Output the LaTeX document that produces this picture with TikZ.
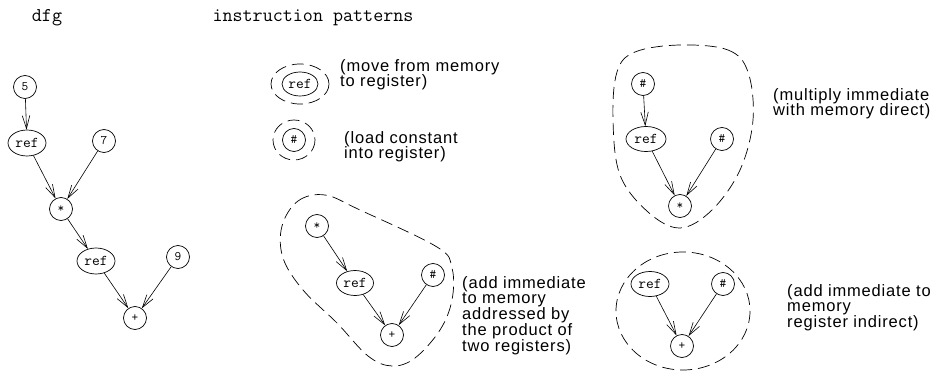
\documentclass[tikz,border=0pt]{standalone}
\usepackage{fontspec}
\setmainfont{Liberation Sans}
\newfontfamily\descfont{Liberation Sans}[LetterSpace=5]
\usetikzlibrary{arrows.meta,shapes.geometric}
\begin{document}
\begin{tikzpicture}[x=1pt,y=-1pt,
  cnode/.style={circle,draw,line width=0.7pt,minimum size=23pt,inner sep=0pt,font=\ttfamily\fontsize{13}{13}\selectfont},
  enode/.style={ellipse,draw,line width=0.7pt,minimum width=38pt,minimum height=26pt,inner sep=0pt,font=\ttfamily\fontsize{15}{15}\selectfont},
  arr/.style={-{Straight Barb[length=13pt,width=7.5pt]},line width=0.6pt},
  blob/.style={draw,dash pattern=on 12pt off 6pt,line width=0.7pt},
  desc/.style={anchor=north west,align=left,font=\descfont\fontsize{16.5}{15.8}\selectfont,inner sep=0pt},
  ttl/.style={font=\ttfamily\fontsize{19.5}{19.5}\selectfont,inner sep=0pt}
]
\useasboundingbox (0,0) rectangle (937,377);
% titles
\node[ttl] (t1) at (47,18) {dfg};
\node[ttl] (t2) at (313,18) {instruction patterns};
% dfg
\node[cnode] (d5) at (25,87) {5};
\node[enode] (dr1) at (27,143) {ref};
\node[cnode] (d7) at (104,141) {7};
\node[cnode] (dm) at (61,209) {*};
\node[enode] (dr2) at (96,261) {ref};
\node[cnode] (d9) at (178,257) {9};
\node[cnode] (dp) at (135,318) {+};
\draw[arr] (d5) -- (dr1);
\draw[arr] (dr1) -- (dm);
\draw[arr] (d7) -- (dm);
\draw[arr] (dm) -- (dr2);
\draw[arr] (dr2) -- (dp);
\draw[arr] (d9) -- (dp);
% pattern A
\node[enode,minimum width=36pt,minimum height=24pt] (ar) at (300,84) {ref};
\draw[blob] (ar.center) ellipse [x radius=29, y radius=20];
\node[desc] (at) at (340,59) {(move from memory\\to register)};
% pattern B
\node[cnode] (bh) at (294,140) {\#};
\draw[blob] (bh.center) ellipse [x radius=21, y radius=20];
\node[desc] (bt) at (344,131) {(load constant\\into register)};
% pattern C
\node[cnode] (cm) at (317,226) {*};
\node[enode,minimum width=37pt,minimum height=25pt] (cr) at (355,283) {ref};
\node[cnode] (ch) at (433,275) {\#};
\node[cnode] (cp) at (392,335) {+};
\draw[arr] (cm) -- (cr);
\draw[arr] (cr) -- (cp);
\draw[arr] (ch) -- (cp);
\draw[blob] plot[smooth cycle,tension=0.6] coordinates {(282,226) (298,201) (325,195) (360,210) (437,247) (452,268) (452,300) (440,330) (415,358) (392,366) (368,356) (337,323) (303,290) (283,258)};
\node[desc] (ct) at (462,276) {(add immediate\\to memory\\addressed by\\the product of\\two registers)};
% pattern E (multiply)
\node[cnode] (eh1) at (643,84) {\#};
\node[enode,minimum width=40pt,minimum height=25pt] (er) at (646,139) {ref};
\node[cnode] (eh2) at (722,139) {\#};
\node[cnode] (em) at (680,206) {*};
\draw[arr] (eh1) -- (er);
\draw[arr] (er) -- (em);
\draw[arr] (eh2) -- (em);
\draw[blob] plot[smooth cycle,tension=0.6] coordinates {(680,45) (728,50) (748,72) (753,120) (740,170) (712,210) (680,228) (648,212) (620,175) (613,120) (617,72) (635,52)};
\node[desc] (et) at (773,88) {(multiply immediate\\with memory direct)};
% pattern D
\node[enode,minimum width=38pt,minimum height=25pt] (dr) at (650,284) {ref};
\node[cnode] (dh) at (723,284) {\#};
\node[cnode] (dpp) at (682,346) {+};
\draw[arr] (dr) -- (dpp);
\draw[arr] (dh) -- (dpp);
\draw[blob] (683,311) ellipse [x radius=67, y radius=59];
\node[desc] (dt) at (787,284) {(add immediate to\\memory\\register indirect)};
\end{tikzpicture}
\end{document}
